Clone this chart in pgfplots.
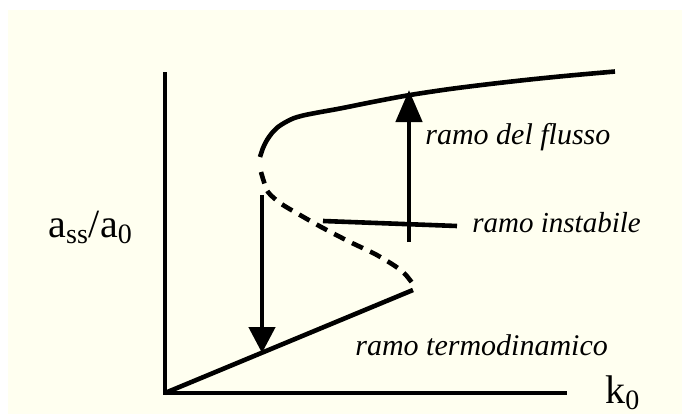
\documentclass[border=0pt]{standalone}
\usepackage{pgfplots}
\pgfplotsset{compat=1.18}
\usepackage{fontspec}
\setmainfont{Liberation Serif}
\usetikzlibrary{arrows.meta}
\definecolor{ivory}{RGB}{255,255,240}
\begin{document}
\begin{tikzpicture}
\begin{axis}[
  hide axis, scale only axis, width=341pt, height=207pt,
  xmin=0, xmax=682, ymin=0, ymax=414, clip=false,
]
\fill[ivory] (axis cs:8,0) rectangle (axis cs:682,404);
\path (axis cs:0,0) rectangle (axis cs:682,414);
% axes
\addplot[black, line width=2.3pt] coordinates {(165,342) (165,21) (567,21)};
% upper branch (ramo del flusso)
\addplot[black, line width=2.3pt, smooth, tension=0.5] coordinates {
(260,257) (263,266) (267,274) (272,281) (278,287) (285,291.5) (293,295.5) (303,298.5)
(318,301.5) (340,305.5) (375,312.5) (410,319) (450,325) (490,330) (530,334.5) (570,338.5) (615,342.5)};
% unstable branch (dashed)
\addplot[black, line width=2.3pt, smooth, dash pattern=on 6pt off 4pt] coordinates {
(261,242) (264,232) (268,222) (280,211) (300,199) (323,186) (350,172) (375,160)
(395,148) (405,140) (413,130)};
% thermodynamic branch
\addplot[black, line width=2.3pt] coordinates {(165,21) (413,124)};
% down arrow
\addplot[black, line width=2.3pt, -{Triangle[length=13pt,width=13pt]}] coordinates {(262,219) (262,61)};
% up arrow
\addplot[black, line width=2.3pt, -{Triangle[length=16pt,width=13pt]}] coordinates {(409,172) (409,324)};
% pointer line
\addplot[black, line width=2.3pt] coordinates {(323,193) (457,188)};
% labels
\node[anchor=west, inner sep=0pt, font=\fontsize{15}{17}\selectfont\itshape] at (axis cs:425,277) {ramo del flusso};
\node[anchor=west, inner sep=0pt, font=\fontsize{14.5}{17}\selectfont\itshape] at (axis cs:472,191) {ramo instabile};
\node[anchor=west, inner sep=0pt, font=\fontsize{15}{17}\selectfont\itshape] at (axis cs:355,69) {ramo termodinamico};
\node[anchor=base west, inner sep=0pt, font=\fontsize{20}{22}\selectfont] at (axis cs:48,177) {a\textsubscript{ss}/a\textsubscript{0}};
\node[anchor=base west, inner sep=0pt, font=\fontsize{20}{22}\selectfont] at (axis cs:605,11) {k\textsubscript{0}};
\end{axis}
\end{tikzpicture}
\end{document}
